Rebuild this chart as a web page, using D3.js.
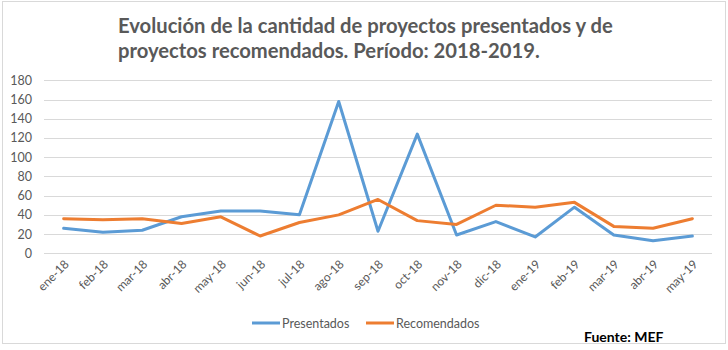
<!DOCTYPE html>
<html>
<head>
<meta charset="utf-8">
<script src="https://cdn.jsdelivr.net/npm/d3@7"></script>
<style>
  html, body { margin: 0; padding: 0; background: #fff; }
  svg { display: block; }
</style>
</head>
<body>
<svg id="chart" width="728" height="350"></svg>
<script>
const categories = ["ene-18","feb-18","mar-18","abr-18","may-18","jun-18","jul-18","ago-18","sep-18","oct-18","nov-18","dic-18","ene-19","feb-19","mar-19","abr-19","may-19"];
const presentados = [26, 22, 24, 38, 44, 44, 40, 158, 23, 124, 19, 33, 17, 48, 19, 13, 18];
const recomendados = [36, 35, 36, 31, 38, 18, 32, 40, 56, 34, 30, 50, 48, 53, 28, 26, 36];
const yTicks = [0, 20, 40, 60, 80, 100, 120, 140, 160, 180];
const seriesNames = ["Presentados", "Recomendados"];
const titleLines = ["Evolución de la cantidad de proyectos presentados y de", "proyectos recomendados. Período: 2018-2019."];
const sourceText = "Fuente: MEF";

const colors = ["#5b9bd5", "#ed7d31"];
const svg = d3.select("#chart");

// frame
svg.append("rect").attr("x", 2.5).attr("y", 1.5).attr("width", 723).attr("height", 342)
  .attr("fill", "#fff").attr("stroke", "#d9d9d9").attr("stroke-width", 1);

const x = d3.scaleBand().domain(categories).range([44, 712]);
const y = d3.scaleLinear().domain([0, 180]).range([253.3, 80.3]);

// gridlines
svg.append("g").selectAll("line").data(yTicks).join("line")
  .attr("x1", 44).attr("x2", 712)
  .attr("y1", d => Math.round(y(d)) + 0.5).attr("y2", d => Math.round(y(d)) + 0.5)
  .attr("stroke", "#d9d9d9").attr("stroke-width", 1);

// y axis labels
const yAxis = d3.axisLeft(y).tickValues(yTicks).tickSize(0).tickPadding(0);
const gy = svg.append("g").attr("transform", "translate(32,0)").call(yAxis);
gy.select(".domain").remove();
gy.selectAll("text").attr("font-family", "Lato, 'Open Sans', sans-serif").attr("font-size", 12.5)
  .attr("fill", "#595959");

// x axis labels
svg.append("g").selectAll("text").data(categories).join("text")
  .attr("transform", d => `translate(${x(d) + x.bandwidth() / 2 + 6},265) rotate(-45)`)
  .attr("text-anchor", "end")
  .attr("font-family", "Lato, 'Open Sans', sans-serif").attr("font-size", 12)
  .attr("fill", "#595959")
  .text(d => d);

// lines
const line = d3.line()
  .x((d, i) => x(categories[i]) + x.bandwidth() / 2)
  .y(d => y(d));
[presentados, recomendados].forEach((s, k) => {
  svg.append("path").datum(s)
    .attr("d", line)
    .attr("fill", "none")
    .attr("stroke", colors[k])
    .attr("stroke-width", 3)
    .attr("stroke-linejoin", "round")
    .attr("stroke-linecap", "round");
});

// legend
const legendItems = [{x: 252, name: seriesNames[0], c: colors[0]}, {x: 366, name: seriesNames[1], c: colors[1]}];
legendItems.forEach(it => {
  svg.append("line").attr("x1", it.x).attr("x2", it.x + 28).attr("y1", 323).attr("y2", 323)
    .attr("stroke", it.c).attr("stroke-width", 3);
  svg.append("text").attr("x", it.x + 30).attr("y", 327.5)
    .attr("font-family", "Lato, 'Open Sans', sans-serif").attr("font-size", 12.5)
    .attr("fill", "#595959").text(it.name);
});

// title
const tFont = "Lato, 'Open Sans', sans-serif";
const t1 = svg.append("text").attr("x", 118).attr("y", 33)
  .attr("font-family", tFont).attr("font-weight", "bold").attr("font-size", 20)
  .attr("fill", "#595959").text(titleLines[0]);
const w = t1.node().getComputedTextLength();
const fs = 20 * 495 / w;
t1.attr("font-size", fs);
svg.append("text").attr("x", 118).attr("y", 58)
  .attr("font-family", tFont).attr("font-weight", "bold").attr("font-size", fs)
  .attr("fill", "#595959").text(titleLines[1]);

// source
svg.append("text").attr("x", 584).attr("y", 342)
  .attr("font-family", tFont).attr("font-weight", "bold").attr("font-size", 14)
  .attr("fill", "#000").text(sourceText);
</script>
</body>
</html>
